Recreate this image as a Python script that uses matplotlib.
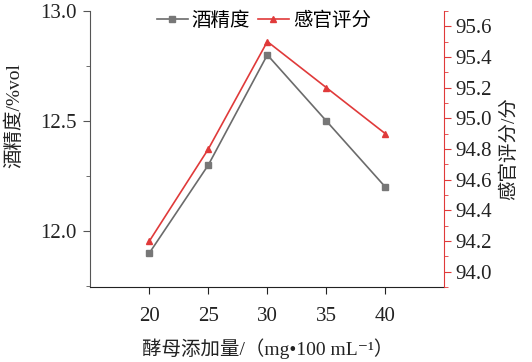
import matplotlib.pyplot as plt
from matplotlib.ticker import MultipleLocator

# 数据
yeast = [20, 25, 30, 35, 40]
alcohol = [11.9, 12.3, 12.8, 12.5, 12.2]
score = [94.2, 94.8, 95.5, 95.2, 94.9]

plt.rcParams['font.family'] = ['Liberation Serif', 'Noto Sans CJK SC', 'DejaVu Serif']
plt.rcParams['axes.unicode_minus'] = False

grey = '#6b6b6b'
red = '#e03a3a'

fig, ax = plt.subplots(figsize=(5.32, 3.62), dpi=100)
fig.subplots_adjust(left=0.17, right=0.835, top=0.97, bottom=0.207)
ax2 = ax.twinx()

l1, = ax.plot(yeast, alcohol, color=grey, lw=1.2, marker='s', ms=4.5,
              markerfacecolor='#777777', markeredgecolor='#777777', label='酒精度')
l2, = ax2.plot(yeast, score, color=red, lw=1.2, marker='^', ms=5,
               label='感官评分')

ax.set_xlim(15, 45)
ax.set_ylim(11.745, 13.0)
ax2.set_ylim(93.9, 95.7)

ax.set_xticks(yeast)
ax.set_yticks([12.0, 12.5, 13.0])
ax.yaxis.set_minor_locator(MultipleLocator(0.25))
ax2.yaxis.set_major_locator(MultipleLocator(0.2))
ax2.yaxis.set_minor_locator(MultipleLocator(0.1))
ax.yaxis.set_major_formatter(plt.FormatStrFormatter('%.1f'))
ax2.yaxis.set_major_formatter(plt.FormatStrFormatter('%.1f'))

for a in (ax, ax2):
    a.spines['top'].set_visible(False)
ax.spines['right'].set_visible(False)
ax.spines['left'].set_color('#555555')
ax.spines['bottom'].set_color('#222222')
ax2.spines['left'].set_visible(False)
ax2.spines['bottom'].set_visible(False)
ax2.spines['right'].set_color(red)

ax.tick_params(axis='both', which='major', direction='out', length=5,
               labelsize=15, colors='#222222')
ax.tick_params(axis='x', which='major', pad=9)
ax.tick_params(axis='y', which='minor', direction='out', length=3, color='#555555')
ax.tick_params(axis='y', which='major', color='#555555', pad=5)
ax2.tick_params(axis='y', which='major', direction='out', length=5,
                labelsize=15, color=red, labelcolor='#222222', pad=3)
ax2.tick_params(axis='y', which='minor', direction='out', length=3, color=red)

ax.set_xlabel('酵母添加量/（mg•100 mL⁻¹）', fontsize=14, color='#222222', labelpad=9)
ax.set_ylabel('酒精度/%vol', fontsize=14, color='#222222')
ax.yaxis.set_label_coords(-0.19, 0.62)
ax2.set_ylabel('感官评分/分', fontsize=14, color='#222222', rotation=90, labelpad=6)

leg = ax.legend([l1, l2], ['酒精度', '感官评分'], loc='upper center',
                bbox_to_anchor=(0.49, 1.06), ncol=2, frameon=False,
                fontsize=14, handlelength=1.6, handletextpad=0.2, columnspacing=0.4)

fig.savefig('out.png', dpi=100)
